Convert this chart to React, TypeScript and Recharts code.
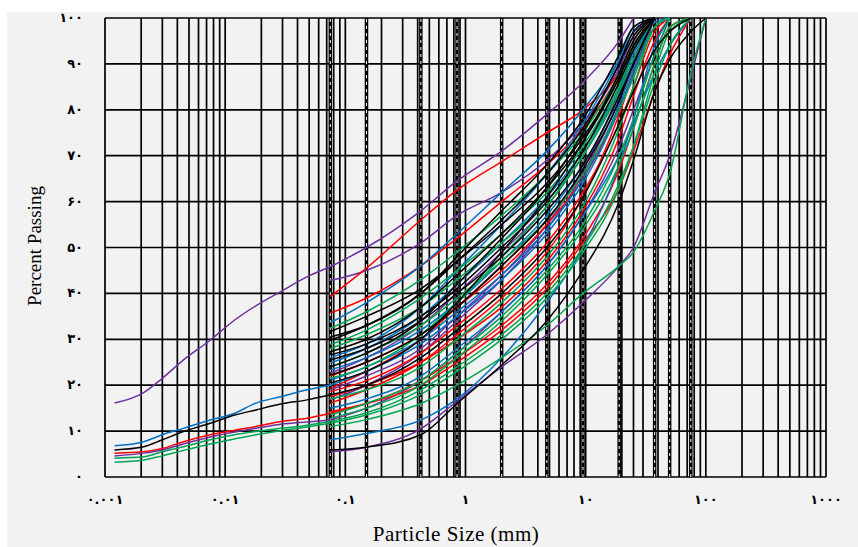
import React from "react";
import { LineChart, Line, XAxis, YAxis, ReferenceLine } from "recharts";

// sieve sizes (mm) used for every gradation curve
const SIEVE_SIZES = [0.075, 0.15, 0.425, 0.85, 2, 4.75, 9.5, 19, 25, 37.5, 50, 75, 100];
// hydrometer sizes (mm) for the curves that extend below 0.075
const HYDRO_SIZES = [0.0012, 0.0021, 0.003, 0.0045, 0.0075, 0.012, 0.018, 0.029, 0.048, 0.075];

const PURPLE_CURVES = [
  [45.8, 50, 58, 64.5, 71, 79, 86, 95, 100],
  [42.8, 45, 51, 57, 62, 69, 77, 89, 96, 100],
  [22.6, 26, 33, 40, 49, 59, 70, 84, 91, 100],
  [16.8, 20, 27, 34, 43, 54, 66, 82, 90, 98, 100],
  [12.4, 15, 21, 27, 36, 46, 57, 72, 80, 92, 100],
  [5.5, 6.5, 10.5, 16.5, 24, 31, 38, 46, 50, 62, 70, 87, 100],
  [19, 22, 28, 35, 44, 55, 67, 84, 93, 100],
];
const RED_CURVES = [
  [39.3, 45.5, 56, 62.5, 68.7, 75, 80, 88, 93, 100],
  [35.7, 39, 46, 52, 60, 68, 76, 88, 95, 100],
  [19.3, 23, 30, 37, 46, 56, 66, 80, 88, 100],
  [18.6, 21, 27, 33, 41, 51, 62, 77, 85, 97, 100],
  [17.5, 20, 25, 30, 37, 47, 58, 74, 83, 95, 100],
  [16.1, 19, 25, 31, 39, 49, 61, 79, 88, 100],
  [13.9, 16, 21, 26, 33, 42, 52, 67, 76, 90, 98, 100],
  [14.2, 16, 20, 25, 32, 41, 51, 63, 71, 84, 92, 100],
  [22, 25, 31, 37, 45, 55, 65, 80, 88, 100],
];
const BLUE_CURVES = [
  [33.6, 38, 46, 53, 62, 71, 80, 91, 97, 100],
  [24.8, 28, 35, 42, 51, 61, 71, 85, 92, 100],
  [23.3, 26, 32, 38, 47, 57, 68, 83, 91, 100],
  [21.1, 24, 30, 36, 44, 54, 65, 81, 89, 99, 100],
  [20, 23, 29, 35, 43, 53, 64, 80, 88, 100],
  [15, 17, 22, 28, 36, 46, 57, 70, 77, 88, 94, 100],
  [8.1, 9.5, 12.4, 17, 26, 38, 50, 68, 78, 94, 100],
  [26, 29, 37, 45, 55, 66, 77, 91, 98, 100],
];
const GREEN_CURVES = [
  [32.4, 36, 43, 49, 57, 66, 75, 88, 95, 100],
  [28.8, 32, 39, 45, 53, 62, 72, 86, 93, 100],
  [28, 31, 37, 43, 51, 60, 70, 84, 91, 100],
  [24, 27, 33, 39, 47, 56, 66, 80, 87, 98, 100],
  [13.5, 16, 21, 27, 35, 45, 55, 70, 78, 92, 100],
  [12.8, 15, 20, 26, 34, 44, 54, 68, 76, 90, 98, 100],
  [12.1, 14, 19, 24, 31, 40, 50, 64, 72, 86, 94, 100],
  [11.7, 13.5, 18, 23, 30, 39, 49, 63, 72, 88, 97, 100],
  [11, 12.5, 16, 20, 26, 33, 40, 46, 49, 58, 66, 88, 100],
  [21.5, 24, 31, 38, 48, 59, 70, 85, 93, 100],
  [17, 19, 24, 30, 38, 48, 59, 76, 85, 98, 100],
];
const BLACK_CURVES = [
  [31.7, 35, 41, 47, 55, 64, 74, 87, 94, 100],
  [29.8, 33, 40, 47, 56, 66, 76, 90, 97, 100],
  [27.3, 30, 37, 44, 53, 63, 73, 87, 94, 100],
  [26.6, 29, 35, 41, 50, 60, 71, 86, 93, 100],
  [25.5, 28, 34, 40, 48, 58, 68, 83, 90, 100],
  [22.2, 25, 31, 37, 46, 56, 67, 82, 90, 100],
  [17.9, 20, 26, 32, 40, 50, 61, 77, 84, 93, 97, 100],
  [5.9, 6.5, 9.2, 16, 24.4, 34, 45, 60, 69, 84, 91, 97, 100],
  [24, 27, 34, 42, 52, 63, 75, 90, 96, 100],
  [20.5, 23, 30, 38, 49, 61, 73, 88, 95, 100],
  [30.5, 33, 40, 48, 58, 68, 78, 92, 98, 100],
];

const HYDRO_CURVES = [
  [16.1, 18.4, 21.5, 25.5, 29.8, 34.2, 37.3, 40.4, 43.6, 45.8],
  [6.8, 7.7, 9.2, 10.6, 12.4, 13.9, 16.1, 17.5, 19.0, 20],
  [5.9, 6.6, 8.1, 9.9, 11.7, 13.5, 14.6, 15.9, 16.8, 17.9],
  [5.2, 5.5, 6.2, 7.7, 9.2, 10.2, 11.0, 12.1, 12.8, 13.9],
  [4.6, 5.2, 5.9, 7.2, 8.7, 9.8, 10.6, 11.5, 12.0, 12.4],
  [4.1, 4.4, 5.5, 6.6, 8.1, 9.2, 9.9, 10.6, 11.3, 12.1],
  [3.2, 3.7, 4.6, 5.8, 7.2, 8.3, 9.2, 10.1, 10.9, 11.7],
];
const HYDRO_COLORS = ["#7030a0", "#0070c0", "#000000", "#ff0000", "#7030a0", "#00a651", "#00a651"];

const X_TICKS = [0.001, 0.01, 0.1, 1, 10, 100, 1000];
const X_LABELS = ["۰.۰۰۱", "۰.۰۱", "۰.۱", "۱", "۱۰", "۱۰۰", "۱۰۰۰"];
const Y_TICKS = [0, 10, 20, 30, 40, 50, 60, 70, 80, 90, 100];
const Y_LABELS = ["۰", "۱۰", "۲۰", "۳۰", "۴۰", "۵۰", "۶۰", "۷۰", "۸۰", "۹۰", "۱۰۰"];

// sieve lines drawn dashed, plus one extra solid line at 25 mm
const DASHED_SIEVES = [0.075, 0.15, 0.425, 0.85, 2, 4.75, 9.5, 19, 37.5, 50, 75];
const EXTRA_LINES = [25];

const GROUPS = [
  { color: "#7030a0", rows: PURPLE_CURVES },
  { color: "#ff0000", rows: RED_CURVES },
  { color: "#0070c0", rows: BLUE_CURVES },
  { color: "#00a651", rows: GREEN_CURVES },
  { color: "#000000", rows: BLACK_CURVES },
];

const gridX: number[] = [];
for (let e = -3; e <= 2; e++) {
  for (let m = 1; m <= 9; m++) gridX.push(Number((m * Math.pow(10, e)).toPrecision(3)));
}
gridX.push(1000);

const toPoints = (sizes: number[], row: number[]) =>
  row.map((p, i) => ({ d: sizes[i], p }));

const XTick = (props: any) => {
  const idx = X_TICKS.indexOf(props.payload.value);
  return (
    <text x={props.x} y={props.y + 19} textAnchor="middle" fontSize={13} fontWeight="bold" fill="#000"
      fontFamily="'DejaVu Sans', sans-serif">
      {X_LABELS[idx]}
    </text>
  );
};

const YTick = (props: any) => {
  const idx = Y_TICKS.indexOf(props.payload.value);
  return (
    <text x={props.x - 14} y={props.y + 4} textAnchor="end" fontSize={13} fontWeight="bold" fill="#000"
      fontFamily="'DejaVu Sans', sans-serif">
      {Y_LABELS[idx]}
    </text>
  );
};

export default function App() {
  return (
    <div style={{ position: "absolute", left: 0, top: 0, width: 858, height: 547, background: "#fff" }}>
      <div style={{ position: "absolute", left: 7, top: 12, width: 851, height: 535, background: "#f2f2f2" }} />
      <div style={{ position: "absolute", left: 0, top: 0 }}>
        <LineChart width={858} height={547} margin={{ top: 18, right: 32, bottom: 40, left: 45 }}>
          <XAxis
            dataKey="d"
            type="number"
            scale="log"
            domain={[0.001, 1000]}
            ticks={X_TICKS}
            allowDataOverflow
            axisLine={false}
            tickLine={false}
            tick={<XTick />}
            height={30}
          />
          <YAxis
            type="number"
            domain={[0, 100]}
            ticks={Y_TICKS}
            axisLine={false}
            tickLine={false}
            tick={<YTick />}
            width={60}
          />
          {gridX.map((v) => (
            <ReferenceLine key={"gx" + v} x={v} stroke="#000" strokeWidth={1.7} />
          ))}
          {EXTRA_LINES.map((v) => (
            <ReferenceLine key={"ex" + v} x={v} stroke="#000" strokeWidth={1.7} />
          ))}
          {Y_TICKS.map((v) => (
            <ReferenceLine key={"gy" + v} y={v} stroke="#000" strokeWidth={1.7} />
          ))}
          {DASHED_SIEVES.map((v) => (
            <ReferenceLine key={"ds" + v} x={v} stroke="#000" strokeWidth={3.5} />
          ))}
          {DASHED_SIEVES.map((v) => (
            <ReferenceLine key={"dw" + v} x={v} stroke="#fff" strokeWidth={1} strokeDasharray="3 4" />
          ))}
          {HYDRO_CURVES.map((row, i) => (
            <Line
              key={"h" + i}
              data={toPoints(HYDRO_SIZES, row)}
              dataKey="p"
              type="monotone"
              stroke={HYDRO_COLORS[i]}
              strokeWidth={1.5}
              dot={false}
              isAnimationActive={false}
            />
          ))}
          {GROUPS.map((g) =>
            g.rows.map((row, i) => (
              <Line
                key={g.color + i}
                data={toPoints(SIEVE_SIZES, row)}
                dataKey="p"
                type="monotone"
                stroke={g.color}
                strokeWidth={1.5}
                dot={false}
                isAnimationActive={false}
              />
            ))
          )}
        </LineChart>
      </div>
      <div
        style={{
          position: "absolute",
          left: 35,
          top: 246,
          transform: "translate(-50%, -50%) rotate(-90deg)",
          fontFamily: "'Liberation Serif', 'Times New Roman', serif",
          fontSize: 19,
          whiteSpace: "nowrap",
        }}
      >
        Percent Passing
      </div>
      <div
        style={{
          position: "absolute",
          left: 456,
          top: 534,
          transform: "translate(-50%, -50%)",
          fontFamily: "'Liberation Serif', 'Times New Roman', serif",
          fontSize: 21,
          letterSpacing: 0.5,
          whiteSpace: "nowrap",
        }}
      >
        Particle Size (mm)
      </div>
    </div>
  );
}
